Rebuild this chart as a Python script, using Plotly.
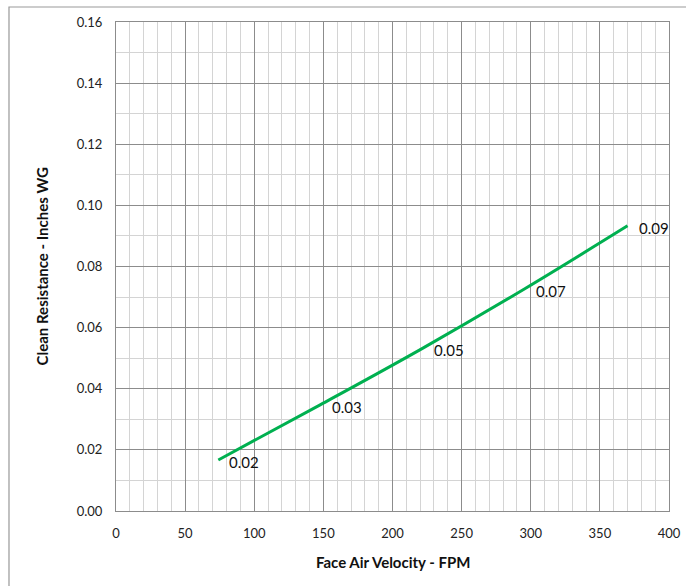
import plotly.graph_objects as go

# Data
velocity_fpm = [74, 148, 222, 296, 370]
resistance_wg = [0.0167, 0.0348, 0.0533, 0.0728, 0.0933]
label_texts = [f"{v:.2f}" for v in resistance_wg]

x_ticks = [0, 50, 100, 150, 200, 250, 300, 350, 400]
y_ticks = [0.00, 0.02, 0.04, 0.06, 0.08, 0.10, 0.12, 0.14, 0.16]

FONT = "Lato, 'Open Sans', sans-serif"
GREEN = "#00B050"
MAJOR = "#8c8c8c"
MINOR = "#d4d4d4"

fig = go.Figure()
fig.add_trace(go.Scatter(
    x=velocity_fpm, y=resistance_wg, mode="lines",
    line=dict(color=GREEN, width=3, shape="spline", smoothing=1),
    hoverinfo="skip", showlegend=False,
))

for xv, yv, t in zip(velocity_fpm, resistance_wg, label_texts):
    fig.add_annotation(x=xv, y=yv, text=t, showarrow=False,
                       xanchor="left", yanchor="middle", xshift=9, yshift=-2,
                       font=dict(family=FONT, size=15, color="#111"))

fig.update_xaxes(
    range=[0, 400], tickvals=x_ticks, ticktext=[str(v) for v in x_ticks],
    showgrid=True, gridcolor=MAJOR, gridwidth=1,
    minor=dict(dtick=10, showgrid=True, gridcolor=MINOR, gridwidth=1, ticks=""),
    showline=True, linecolor=MAJOR, linewidth=1, mirror=True,
    zeroline=False, ticks="", ticklabelstandoff=10, automargin=False,
    tickfont=dict(family=FONT, size=13, color="#222"),
)
fig.update_yaxes(
    range=[0, 0.16], tickvals=y_ticks, ticktext=[f"{v:.2f}" for v in y_ticks],
    showgrid=True, gridcolor=MAJOR, gridwidth=1,
    minor=dict(dtick=0.01, showgrid=True, gridcolor=MINOR, gridwidth=1, ticks=""),
    showline=True, linecolor=MAJOR, linewidth=1, mirror=True,
    zeroline=False, ticks="", ticklabelstandoff=10, automargin=False,
    tickfont=dict(family=FONT, size=13, color="#222"),
)

# Axis titles
fig.add_annotation(xref="paper", yref="paper", x=0.5, y=-0.105, yanchor="middle",
                   text="<b>Face Air Velocity - FPM</b>", showarrow=False,
                   font=dict(family=FONT, size=15, color="#111"))
fig.add_annotation(xref="paper", yref="paper", x=-0.134, y=0.5, xanchor="center",
                   text="<b>Clean Resistance - Inches WG</b>", showarrow=False,
                   textangle=-90, font=dict(family=FONT, size=15, color="#111"))

# Outer chart border (top and left visible)
fig.add_shape(type="rect", xref="paper", yref="paper",
              x0=-0.1935, x1=1.2, y0=-0.3, y1=1.0307,
              line=dict(color="#999999", width=1.2), layer="below")

fig.update_layout(
    width=686, height=586,
    margin=dict(l=116, r=17, t=22, b=75),
    paper_bgcolor="white", plot_bgcolor="white",
)

fig.write_html(
    "out.html",
    config={"displayModeBar": False},
    post_script="document.body.style.margin='0';document.body.style.overflow='hidden';",
)
